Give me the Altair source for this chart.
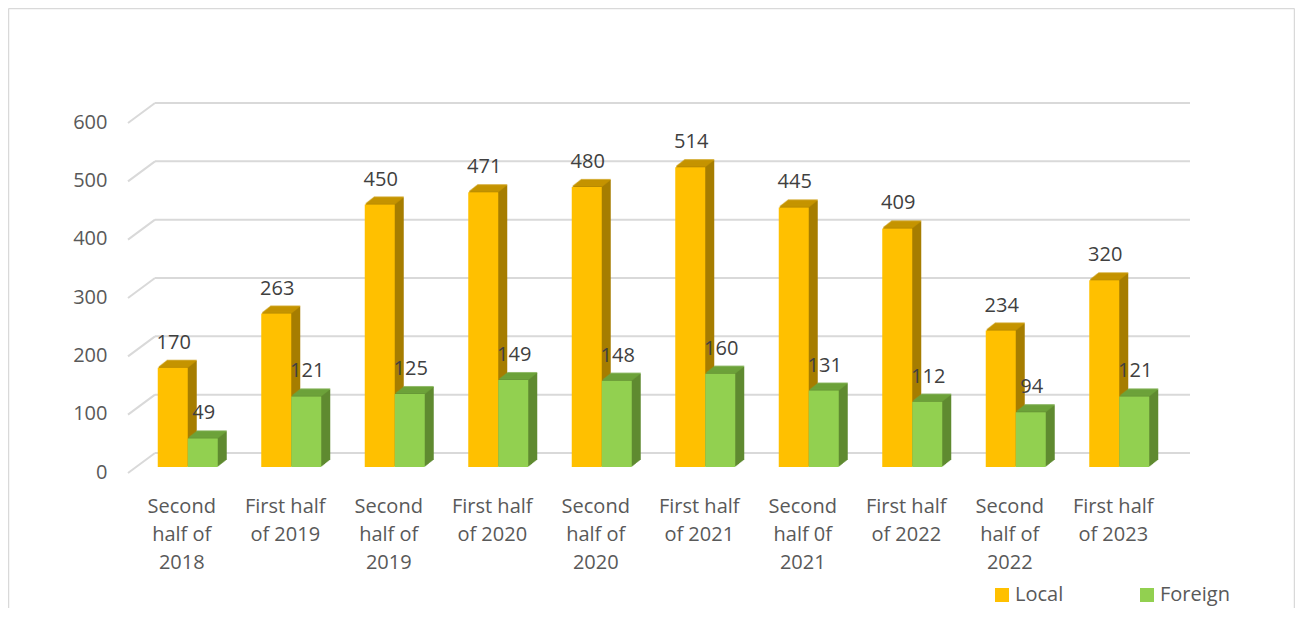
import altair as alt
import pandas as pd

categories = [
    "Second\nhalf of\n2018", "First half\nof 2019", "Second\nhalf of\n2019",
    "First half\nof 2020", "Second\nhalf of\n2020", "First half\nof 2021",
    "Second\nhalf 0f\n2021", "First half\nof 2022", "Second\nhalf of\n2022",
    "First half\nof 2023",
]
local_vals = [170, 263, 450, 471, 480, 514, 445, 409, 234, 320]
foreign_vals = [49, 121, 125, 149, 148, 160, 131, 112, 94, 121]
series_names = ["Local", "Foreign"]
y_ticks = [0, 100, 200, 300, 400, 500, 600]

FRONT = {"Local": "#FFC000", "Foreign": "#92D050"}
TOP = {"Local": "#C99700", "Foreign": "#6FA53C"}
SIDE = {"Local": "#A67D00", "Foreign": "#5F8A30"}
SHIFT = {"Local": -15, "Foreign": 15}

rows = []
for c, l, f in zip(categories, local_vals, foreign_vals):
    rows.append({"cat": c, "series": "Local", "value": l})
    rows.append({"cat": c, "series": "Foreign", "value": f})
df = pd.DataFrame(rows)
grid_df = pd.DataFrame({"v": y_ticks})

W, H = 1035, 350
FONT = "Open Sans"
TXT = "#595959"
GRID = "#D9D9D9"

x_axis = alt.Axis(title=None, labelExpr="split(datum.label, '\\n')", labelFontSize=20,
                  labelColor=TXT, labelFont=FONT, labelLineHeight=28, labelPadding=29,
                  labelOffset=-6, labelAngle=0, ticks=False, tickSize=0, domain=False,
                  grid=False, labelLimit=400, labelOverlap=False)
y_axis = alt.Axis(title=None, values=y_ticks, labelFontSize=20, labelColor=TXT, labelFont=FONT,
                  labelPadding=29, labelOffset=5, ticks=False, tickSize=0, domain=False,
                  grid=False, labelOverlap=False)
y_scale = alt.Scale(domain=[0, 600], nice=False, zero=True)
x_scale = alt.Scale(paddingInner=0, paddingOuter=0)


def X():
    return alt.X("cat:N", sort=categories, scale=x_scale, axis=x_axis)


def Y(field="value"):
    return alt.Y(f"{field}:Q", scale=y_scale, axis=y_axis)


layers = []

# back wall gridlines
layers.append(
    alt.Chart(grid_df).mark_rule(color=GRID, strokeWidth=2, yOffset=-14).encode(
        y=Y("v"), x=alt.value(19), x2=alt.value(W + 19)
    )
)
# diagonal side-wall segments
layers.append(
    alt.Chart(grid_df).mark_rule(color=GRID, strokeWidth=2, yOffset=6, y2Offset=-14).encode(
        y=Y("v"), y2=alt.Y2("v"), x=alt.value(-8), x2=alt.value(19)
    )
)

STEPS = 9
for s in series_names:
    base = alt.Chart(df).transform_filter(alt.datum.series == s)
    # side faces (extruded)
    for i in range(1, STEPS + 1):
        layers.append(
            base.mark_bar(color=SIDE[s], width=30, xOffset=SHIFT[s] + i,
                          yOffset=-0.78 * i, y2Offset=-0.78 * i).encode(x=X(), y=Y())
        )
    # top faces
    for i in range(1, STEPS + 1):
        layers.append(
            base.mark_tick(color=TOP[s], size=30, thickness=1.6, xOffset=SHIFT[s] + i,
                           yOffset=-0.78 * i - 0.3, orient="horizontal").encode(x=X(), y=Y())
        )
    # front face
    layers.append(
        base.mark_bar(width=30, xOffset=SHIFT[s]).encode(
            x=X(), y=Y(),
            color=alt.Color("series:N",
                            scale=alt.Scale(domain=series_names,
                                            range=[FRONT[n] for n in series_names]),
                            sort=series_names,
                            legend=alt.Legend(title=None, orient="none", legendX=856, legendY=468,
                                              direction="horizontal", symbolType="square",
                                              symbolSize=196, symbolStrokeWidth=0,
                                              labelFontSize=20, labelFont=FONT, labelColor=TXT,
                                              labelOffset=3, columnPadding=73)),
        )
    )

for s in series_names:
    layers.append(
        alt.Chart(df).transform_filter(alt.datum.series == s)
        .mark_text(dy=-25, baseline="middle", xOffset=SHIFT[s] + 1, fontSize=20, font=FONT,
                   color="#404040")
        .encode(x=X(), y=Y(), text=alt.Text("value:Q"))
    )

# outer border (left, top, right)
border_df = pd.DataFrame({"k": [0]})
layers.append(alt.Chart(border_df).mark_rule(color=GRID, strokeWidth=1.5).encode(
    x=alt.value(-127.5), y=alt.value(-108.5), y2=alt.value(H + 150)))
layers.append(alt.Chart(border_df).mark_rule(color=GRID, strokeWidth=1.5).encode(
    x=alt.value(-127.5), x2=alt.value(W + 123.5), y=alt.value(-108.5)))
layers.append(alt.Chart(border_df).mark_rule(color=GRID, strokeWidth=1.5).encode(
    x=alt.value(W + 123.5), y=alt.value(-108.5), y2=alt.value(H + 150)))

chart = alt.layer(*layers).properties(
    width=W, height=H,
    padding={"left": 128, "top": 109, "right": 124, "bottom": 141},
    autosize=alt.AutoSizeParams(type="none"),
    background="white",
).configure_view(stroke=None)

chart.save("out.html", embed_options={"renderer": "svg", "actions": False})
